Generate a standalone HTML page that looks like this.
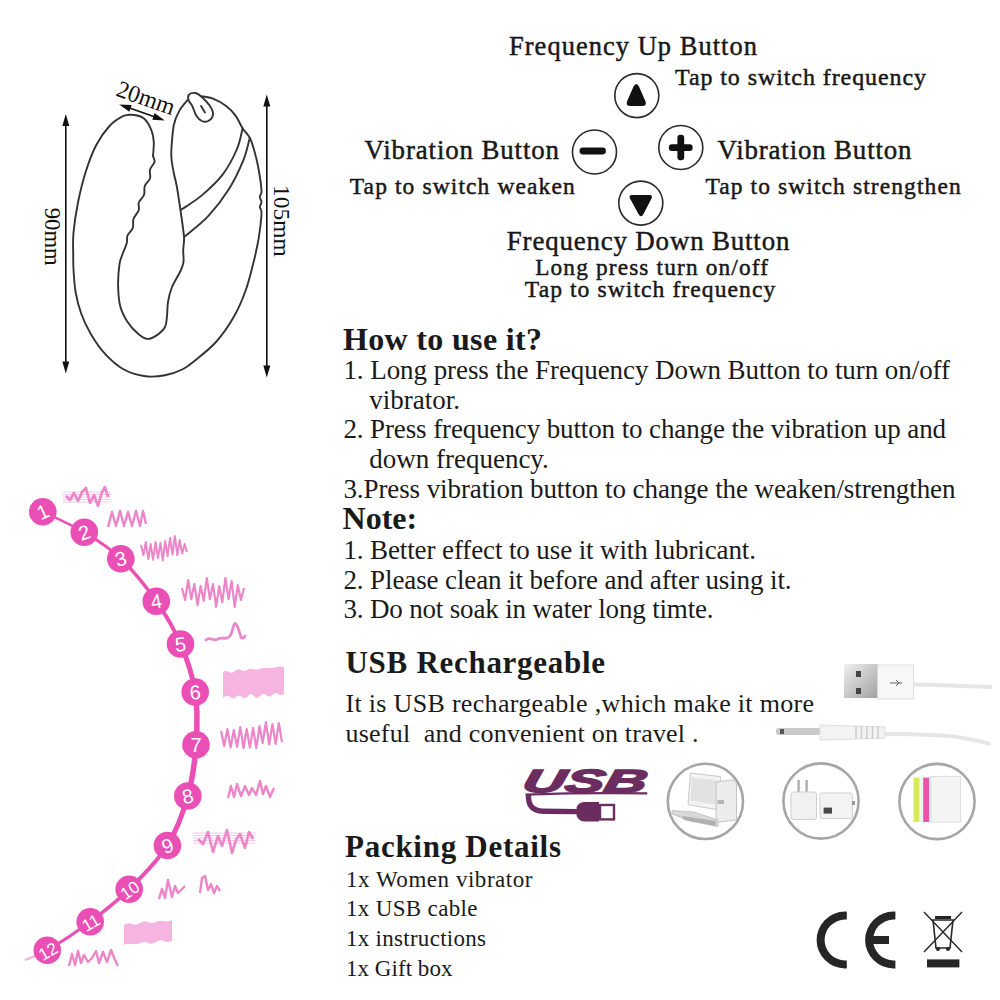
<!DOCTYPE html>
<html><head><meta charset="utf-8"><style>
html,body{margin:0;padding:0;background:#fff;}
body{width:1000px;height:1000px;position:relative;overflow:hidden;}
.t{position:absolute;white-space:pre;color:#1a1a1a;font-family:"Liberation Serif",serif;}
.b{font-weight:bold;}
svg{position:absolute;left:0;top:0;}
</style></head><body>
<svg width="1000" height="1000" viewBox="0 0 1000 1000">
<path d="M153.0,156.0 C153.1,153.8 154.0,146.8 153.8,142.5 C153.5,138.2 153.1,134.5 151.5,130.5 C149.9,126.5 147.2,121.1 144.0,118.5 C140.8,115.9 135.5,115.1 132.0,114.8 C128.5,114.4 126.8,114.4 123.0,116.2 C119.2,118.1 114.0,121.1 109.5,126.0 C105.0,130.9 100.0,137.8 96.0,145.5 C92.0,153.2 88.5,163.0 85.5,172.5 C82.5,182.0 80.0,192.5 78.0,202.5 C76.0,212.5 74.3,223.8 73.5,232.5 C72.7,241.2 73.2,248.6 73.2,255.0 C73.2,261.4 73.2,264.8 73.6,271.0 C74.0,277.2 74.4,285.0 75.6,292.0 C76.8,299.0 78.5,306.0 81.0,313.0 C83.5,320.0 86.8,327.2 90.8,334.0 C94.8,340.8 99.4,347.8 104.8,353.6 C110.2,359.4 116.5,365.3 123.0,369.0 C129.5,372.7 137.0,374.9 144.0,376.0 C151.0,377.1 158.5,376.5 165.0,375.3 C171.5,374.1 178.2,371.5 183.2,369.0 C188.2,366.5 189.5,365.0 195.0,360.5 C200.5,356.0 209.5,349.3 216.0,342.0 C222.5,334.7 229.0,325.2 234.0,316.5 C239.0,307.8 242.8,298.5 246.0,289.5 C249.2,280.5 251.5,270.4 253.5,262.5 C255.5,254.6 256.8,248.2 258.0,242.0 C259.2,235.8 259.9,230.0 260.5,225.0 C261.1,220.0 261.6,215.0 261.5,212.0 C261.4,209.0 259.8,208.7 259.8,207.0 C259.8,205.3 261.5,203.7 261.5,202.0 C261.5,200.3 259.8,198.7 259.8,197.0 C259.8,195.3 261.4,194.7 261.5,192.0 C261.6,189.3 261.1,185.5 260.5,181.0 C259.9,176.5 258.9,170.3 257.8,165.0 C256.7,159.7 255.1,153.5 253.8,149.0 C252.5,144.5 251.7,141.3 249.8,137.8 C247.9,134.3 245.0,131.9 242.6,128.2 C240.2,124.5 238.2,119.1 235.4,115.4 C232.6,111.7 229.5,108.6 225.8,105.8 C222.1,103.0 217.1,100.2 213.0,98.6 C208.9,97.0 203.0,96.6 201.0,96.2" fill="none" stroke="#333" stroke-width="1.9" stroke-linejoin="round" stroke-linecap="round"/>
<path d="M153.0,156.0 C153.2,157.0 155.0,159.8 154.5,162.0 C154.0,164.2 150.8,166.8 150.0,169.5 C149.2,172.2 150.9,175.8 150.0,178.5 C149.1,181.2 145.8,183.2 144.8,186.0 C143.8,188.8 145.0,192.2 144.0,195.0 C143.0,197.8 139.6,200.0 138.8,202.5 C137.9,205.0 139.6,207.2 138.8,210.0 C137.9,212.8 134.5,216.0 133.5,219.0 C132.5,222.0 133.8,225.2 132.8,228.0 C131.8,230.8 128.5,233.0 127.5,235.5 C126.5,238.0 127.6,239.8 126.8,243.0 C125.9,246.2 123.5,251.5 122.2,255.0 C121.0,258.5 120.2,259.0 119.5,264.0 C118.8,269.0 118.0,278.0 118.1,285.0 C118.2,292.0 118.7,299.9 120.2,306.0 C121.7,312.1 124.2,316.7 127.2,321.4 C130.2,326.1 135.0,331.1 138.4,334.0 C141.8,336.9 144.5,338.7 147.5,338.9 C150.5,339.1 153.7,337.4 156.6,335.4 C159.5,333.4 163.3,330.2 165.0,327.0 C166.7,323.8 166.5,320.2 167.0,316.0 C167.5,311.8 167.2,306.8 168.0,302.0 C168.8,297.2 169.9,292.2 172.0,287.0 C174.1,281.8 178.6,275.2 180.5,271.0 C182.4,266.8 183.1,265.5 183.5,262.0 C183.9,258.5 183.1,254.2 183.2,250.0 C183.3,245.8 184.4,243.0 184.0,237.0 C183.6,231.0 182.2,222.2 181.0,214.0 C179.8,205.8 178.2,194.3 177.0,187.5 C175.8,180.7 174.7,177.6 173.8,173.0 C172.9,168.4 172.0,164.0 171.6,160.0 C171.2,156.0 171.0,154.8 171.4,149.0 C171.8,143.2 172.5,131.4 173.8,125.0 C175.1,118.6 177.1,114.7 179.4,110.6 C181.7,106.5 186.1,101.9 187.4,100.2" fill="none" stroke="#333" stroke-width="1.9" stroke-linejoin="round" stroke-linecap="round"/>
<path d="M189.0,94.6 C190.2,93.4 193.4,92.7 195.4,93.0 C197.4,93.3 198.6,94.1 201.0,96.2 C203.4,98.3 207.8,102.7 209.8,105.8 C211.8,108.9 213.3,112.1 213.0,114.6 C212.7,117.1 210.1,119.9 208.2,121.0 C206.3,122.1 203.8,121.9 201.8,121.0 C199.8,120.1 197.8,117.9 196.2,115.4 C194.6,112.9 193.5,108.4 192.2,105.8 C190.9,103.2 189.0,101.9 188.5,100.0 C188.0,98.1 187.8,95.8 189.0,94.6 Z" fill="none" stroke="#333" stroke-width="1.9" stroke-linejoin="round" stroke-linecap="round"/>
<path d="M201,106 L205,112.5" fill="none" stroke="#333" stroke-width="1.9" stroke-linejoin="round" stroke-linecap="round" stroke-width="1.2"/>
<path d="M242.6,128.2 C241.7,131.7 240.3,141.3 237.0,149.0 C233.7,156.7 228.5,166.9 222.6,174.6 C216.7,182.3 208.7,189.5 201.8,195.4 C194.9,201.3 184.5,207.4 181.0,209.8" fill="none" stroke="#333" stroke-width="1.9" stroke-linejoin="round" stroke-linecap="round" stroke-width="1.5"/>
<path d="M249.8,137.8 C248.7,141.5 246.9,151.7 243.4,160.2 C239.9,168.7 234.9,179.7 229.0,189.0 C223.1,198.3 215.5,208.3 208.2,216.2 C200.9,224.1 188.9,232.9 185.0,236.2" fill="none" stroke="#333" stroke-width="1.9" stroke-linejoin="round" stroke-linecap="round" stroke-width="1.5"/>
<line x1="65.8" y1="122" x2="65.8" y2="365.5" stroke="#111" stroke-width="1.6"/><path d="M62.3,126 L65.8,114 L69.3,126 Z" fill="#111"/><path d="M62.3,361.5 L65.8,373.5 L69.3,361.5 Z" fill="#111"/>
<line x1="266.8" y1="102.6" x2="266.8" y2="369.5" stroke="#111" stroke-width="1.6"/><path d="M263.3,106.6 L266.8,94.6 L270.3,106.6 Z" fill="#111"/><path d="M263.3,365.5 L266.8,377.5 L270.3,365.5 Z" fill="#111"/>
<g transform="translate(119.2,104.4) rotate(19.33)"><line x1="8" y1="0" x2="40.3" y2="0" stroke="#111" stroke-width="1.6"/><path d="M0,0 L12,-3.5 L12,3.5 Z" fill="#111"/><path d="M48.3,0 L36.3,-3.5 L36.3,3.5 Z" fill="#111"/></g>
<text x="0" y="0" transform="translate(45,236.7) rotate(90)" text-anchor="middle" font-family="Liberation Serif" font-size="24" fill="#111" textLength="58" lengthAdjust="spacingAndGlyphs">90mm</text>
<text x="0" y="0" transform="translate(274,220.8) rotate(90)" text-anchor="middle" font-family="Liberation Serif" font-size="24" fill="#111" textLength="71.7" lengthAdjust="spacingAndGlyphs">105mm</text>
<text x="0" y="0" transform="translate(115,95.5) rotate(19.33)" font-family="Liberation Serif" font-size="24" fill="#111" textLength="60" lengthAdjust="spacingAndGlyphs">20mm</text>
<path d="M42.8,511.7 C49.7,515.1 71.3,524.5 84.3,532.3" fill="none" stroke="#ea4fb5" stroke-width="2.6"/>
<path d="M84.3,532.3 C97.3,540.1 108.8,547.2 120.8,558.7" fill="none" stroke="#ea4fb5" stroke-width="3"/>
<path d="M120.8,558.7 C132.8,570.2 146.4,587.0 156.3,601.2" fill="none" stroke="#ea4fb5" stroke-width="3.4"/>
<path d="M156.3,601.2 C166.2,615.4 174.0,628.9 180.5,644.0" fill="none" stroke="#ea4fb5" stroke-width="4"/>
<path d="M180.5,644.0 C187.0,659.1 192.6,675.2 195.2,692.0" fill="none" stroke="#ea4fb5" stroke-width="5"/>
<path d="M195.2,692.0 C197.8,708.8 197.2,727.5 196.0,744.8" fill="none" stroke="#ea4fb5" stroke-width="5.5"/>
<path d="M196.0,744.8 C194.8,762.1 192.6,779.2 187.8,796.0" fill="none" stroke="#ea4fb5" stroke-width="5.5"/>
<path d="M187.8,796.0 C183.0,812.8 177.2,830.0 167.4,845.5" fill="none" stroke="#ea4fb5" stroke-width="5"/>
<path d="M167.4,845.5 C157.6,861.0 142.1,876.5 129.2,889.2" fill="none" stroke="#ea4fb5" stroke-width="4.2"/>
<path d="M129.2,889.2 C116.3,901.9 103.8,911.5 90.2,921.7" fill="none" stroke="#ea4fb5" stroke-width="3.6"/>
<path d="M90.2,921.7 C76.6,931.9 58.2,943.9 47.3,950.3" fill="none" stroke="#ea4fb5" stroke-width="3"/>
<path d="M47.3,950.3 C36.4,956.7 28.7,958.4 25.0,960.0" fill="none" stroke="#f5b5dd" stroke-width="2.2"/>
<circle cx="42.8" cy="511.7" r="13.8" fill="#ea4fb5"/>
<text x="0" y="0" transform="translate(42.8,511.7) rotate(-25)" text-anchor="middle" dy="7.2" font-family="Liberation Sans" font-size="20" fill="#fff">1</text>
<circle cx="84.3" cy="532.3" r="13.8" fill="#ea4fb5"/>
<text x="0" y="0" transform="translate(84.3,532.3) rotate(-20)" text-anchor="middle" dy="7.2" font-family="Liberation Sans" font-size="20" fill="#fff">2</text>
<circle cx="120.8" cy="558.7" r="13.8" fill="#ea4fb5"/>
<text x="0" y="0" transform="translate(120.8,558.7) rotate(-15)" text-anchor="middle" dy="7.2" font-family="Liberation Sans" font-size="20" fill="#fff">3</text>
<circle cx="156.3" cy="601.2" r="13.8" fill="#ea4fb5"/>
<text x="0" y="0" transform="translate(156.3,601.2) rotate(-10)" text-anchor="middle" dy="7.2" font-family="Liberation Sans" font-size="20" fill="#fff">4</text>
<circle cx="180.5" cy="644" r="13.8" fill="#ea4fb5"/>
<text x="0" y="0" transform="translate(180.5,644) rotate(-5)" text-anchor="middle" dy="7.2" font-family="Liberation Sans" font-size="20" fill="#fff">5</text>
<circle cx="195.2" cy="692" r="13.8" fill="#ea4fb5"/>
<text x="0" y="0" transform="translate(195.2,692) rotate(-5)" text-anchor="middle" dy="7.2" font-family="Liberation Sans" font-size="20" fill="#fff">6</text>
<circle cx="196" cy="744.8" r="13.8" fill="#ea4fb5"/>
<text x="0" y="0" transform="translate(196,744.8) rotate(0)" text-anchor="middle" dy="7.2" font-family="Liberation Sans" font-size="20" fill="#fff">7</text>
<circle cx="187.8" cy="796" r="13.8" fill="#ea4fb5"/>
<text x="0" y="0" transform="translate(187.8,796) rotate(-12)" text-anchor="middle" dy="7.2" font-family="Liberation Sans" font-size="20" fill="#fff">8</text>
<circle cx="167.4" cy="845.5" r="13.8" fill="#ea4fb5"/>
<text x="0" y="0" transform="translate(167.4,845.5) rotate(-20)" text-anchor="middle" dy="7.2" font-family="Liberation Sans" font-size="20" fill="#fff">9</text>
<circle cx="129.2" cy="889.2" r="13.8" fill="#ea4fb5"/>
<text x="0" y="0" transform="translate(129.2,889.2) rotate(-35)" text-anchor="middle" dy="7.2" font-family="Liberation Sans" font-size="17" fill="#fff">10</text>
<circle cx="90.2" cy="921.7" r="13.8" fill="#ea4fb5"/>
<text x="0" y="0" transform="translate(90.2,921.7) rotate(-30)" text-anchor="middle" dy="7.2" font-family="Liberation Sans" font-size="17" fill="#fff">11</text>
<circle cx="47.3" cy="950.3" r="13.8" fill="#ea4fb5"/>
<text x="0" y="0" transform="translate(47.3,950.3) rotate(-30)" text-anchor="middle" dy="7.2" font-family="Liberation Sans" font-size="17" fill="#fff">12</text>
<line x1="63" y1="492" x2="111" y2="492" stroke="#f4bfe4" stroke-width="0.9"/>
<line x1="63" y1="494.5" x2="111" y2="494.5" stroke="#f4bfe4" stroke-width="0.9"/>
<line x1="63" y1="497" x2="111" y2="497" stroke="#f4bfe4" stroke-width="0.9"/>
<line x1="63" y1="499.5" x2="111" y2="499.5" stroke="#f4bfe4" stroke-width="0.9"/>
<line x1="63" y1="502" x2="111" y2="502" stroke="#f4bfe4" stroke-width="0.9"/>
<polyline points="66,496 70,500 74,493 78,501 82,492 86,488 90,503 94,495 98,506 102,492 105,487 108,497" fill="none" stroke="#ec86c8" stroke-width="2.6" stroke-linejoin="round"/>
<polyline points="108,527 112,512 116,526 120,511 124,526 128,512 132,526 136,511 140,526 143,511 146,524" fill="none" stroke="#ec86c8" stroke-width="2.4" stroke-linejoin="round"/>
<polyline points="141.0,545.0 143.4,555.2 145.8,542.0 148.3,559.0 150.7,544.0 153.1,559.8 155.5,542.0 157.9,558.2 160.4,543.0 162.8,560.5 165.2,541.0 167.6,556.0 170.1,538.0 172.5,554.5 174.9,536.0 177.3,555.2 179.7,540.0 182.2,553.8 184.6,544.0 187.0,552.2" fill="none" stroke="#ec86c8" stroke-width="2.0" stroke-linejoin="round" opacity="1.0"/>
<polyline points="182.0,588.0 185.1,600.0 188.2,580.0 191.3,599.2 194.4,584.0 197.5,605.2 200.6,586.0 203.7,600.8 206.8,578.0 209.9,599.2 213.0,584.0 216.1,606.8 219.2,586.0 222.3,602.2 225.4,578.0 228.5,599.2 231.6,581.0 234.7,606.8 237.8,585.0 240.9,600.0 244.0,588.0" fill="none" stroke="#ec86c8" stroke-width="2.2" stroke-linejoin="round" opacity="1.0"/>
<path d="M206,640 C210,636 214,642 218,639 C222,636 226,641 230,636 C233,632 233,624 235,623.5 C238,624 239,632 241,637 C242,639 244,638 245,636" fill="none" stroke="#ec86c8" stroke-width="2.8" stroke-linecap="round"/>
<path d="M223,672 Q226,670 229,672 T235,671 T241,670 T247,670 T253,669 T259,669 T265,668 T271,668 T277,667 T284,667 L284,694 Q281,696 278,694 T272,695 T266,695 T260,696 T254,696 T248,696 T242,697 T236,697 T230,697 T223,698 Z" fill="#f5b5e0"/>
<polyline points="221.0,731.0 224.2,746.0 227.4,729.0 230.6,747.5 233.8,730.0 237.1,746.8 240.3,727.0 243.5,748.2 246.7,729.0 249.9,747.5 253.1,728.0 256.3,748.2 259.5,726.0 262.7,743.0 265.9,722.0 269.2,744.5 272.4,724.0 275.6,743.8 278.8,723.0 282.0,742.2" fill="none" stroke="#ec86c8" stroke-width="2.2" stroke-linejoin="round" opacity="1.0"/>
<polyline points="228,798 231,786 234,797 237,784 241,796 245,786 249,795 252,788 256,795 260,781 263,794 266,786 270,797 274,788" fill="none" stroke="#ec86c8" stroke-width="2.4" stroke-linejoin="round"/>
<line x1="193" y1="833" x2="255" y2="833" stroke="#f4bfe4" stroke-width="0.9"/>
<line x1="193" y1="835.5" x2="255" y2="835.5" stroke="#f4bfe4" stroke-width="0.9"/>
<line x1="193" y1="838" x2="255" y2="838" stroke="#f4bfe4" stroke-width="0.9"/>
<line x1="193" y1="840.5" x2="255" y2="840.5" stroke="#f4bfe4" stroke-width="0.9"/>
<line x1="193" y1="843" x2="255" y2="843" stroke="#f4bfe4" stroke-width="0.9"/>
<polyline points="198,839 203,844 208,832 213,852 218,836 222,846 227,830 232,853 236,840 240,834 245,848 249,832 253,839" fill="none" stroke="#ec86c8" stroke-width="2.6" stroke-linejoin="round"/>
<polyline points="159,899 162,889 165,898 168,880 172,897 175,886 178,893 181,890 185,886" fill="none" stroke="#ec86c8" stroke-width="2.4" stroke-linejoin="round"/>
<polyline points="200,893 202,878 205,876 208,890 211,884 214,893 217,886 220,891" fill="none" stroke="#ec86c8" stroke-width="2.4" stroke-linejoin="round"/>
<path d="M124,925 Q128,922 132,924 T140,923 T148,922 T156,922 T164,921 T172,920 L172,941 Q168,943 164,941 T156,942 T148,943 T140,943 T132,944 T124,945 Z" fill="#f5b5e0"/>
<polyline points="69,966 72,954 75,965 78,951 81,963 84,955 88,962 92,958 96,951 99,963 103,952 107,962 111,950 115,960 118,966" fill="none" stroke="#ec86c8" stroke-width="2.4" stroke-linejoin="round"/>
<circle cx="636.8" cy="95.6" r="22" fill="#fff" stroke="#2a2a2a" stroke-width="1.6"/>
<path d="M633.5,86.5 Q636.3,81.5 639,86.5 L645.5,101.5 Q647,106 642,106 L630.5,106 Q625.5,106 627,101.5 Z" fill="#111"/>
<circle cx="594.5" cy="152" r="22" fill="#fff" stroke="#2a2a2a" stroke-width="1.6"/>
<rect x="579.5" y="147.6" width="26.4" height="6.8" rx="3.4" fill="#111"/>
<circle cx="680.8" cy="147.5" r="22" fill="#fff" stroke="#2a2a2a" stroke-width="1.6"/>
<rect x="668.8" y="144.2" width="23.8" height="6.8" rx="3" fill="#111"/><rect x="677.4" y="134.7" width="6.8" height="25.5" rx="3" fill="#111"/>
<circle cx="640.8" cy="203.1" r="22" fill="#fff" stroke="#2a2a2a" stroke-width="1.6"/>
<path d="M632,195 L649.5,195 Q653,195 651.5,198.5 L643.5,214 Q641,218.5 638.5,214 L630,198.5 Q628.5,195 632,195 Z" fill="#111"/>
<g transform="translate(521,792.2) skewX(-12)"><text x="0" y="0" font-family="Liberation Sans" font-weight="bold" font-style="italic" font-size="32" fill="#6b2d5f" stroke="#6b2d5f" stroke-width="1.6" textLength="124" lengthAdjust="spacingAndGlyphs">USB</text></g>
<path d="M525.5,794.6 Q586,792.5 647.3,793.4" fill="none" stroke="#6b2d5f" stroke-width="2.2"/>
<path d="M528.5,795 C528,806 533,811 543,811.2 L578,811.6" fill="none" stroke="#6b2d5f" stroke-width="5.4"/>
<path d="M576.6,807 Q579,802 585,802 L599,802 L599,821.6 L585,821.6 Q579,821.6 576.6,816 Z" fill="#6b2d5f"/>
<rect x="600" y="805" width="14" height="14.4" fill="none" stroke="#6b2d5f" stroke-width="2.4"/>
<circle cx="705.4" cy="801.4" r="37.6" fill="#fff" stroke="#a6a6a6" stroke-width="2.6"/>
<circle cx="821" cy="801" r="37.6" fill="#fff" stroke="#a6a6a6" stroke-width="2.6"/>
<circle cx="937" cy="801.5" r="37.6" fill="#fff" stroke="#a6a6a6" stroke-width="2.6"/>
<path d="M690.5,773 L720.5,776.6 L718.6,810 L688,804.6 Z" fill="#f3f3f3" stroke="#c9c9c9" stroke-width="1"/>
<path d="M691.6,777.5 L717.6,780.5 L716.5,805 L690.6,800.5 Z" fill="#e2e2e2"/>
<path d="M716,782 L732,780 Q737,781 736.5,786 L736.5,820 L716,822.5 Z" fill="#ececec" stroke="#c4c4c4" stroke-width="1"/>
<path d="M717.5,800 L724,800 L724,804 L717.5,804 Z" fill="#b5b5b5"/>
<path d="M672,810.5 L694,812 L718,820 L718,826.5 L690,821 L672,814 Z" fill="#d9d9d9" stroke="#bdbdbd" stroke-width="0.8"/>
<path d="M682,816 L716,821 L716,826 L684,820 Z" fill="#b0b0b0"/>
<rect x="797.5" y="780" width="2.2" height="14" fill="#a8a8a8"/><rect x="805.5" y="780" width="2.2" height="14" fill="#a8a8a8"/>
<rect x="791" y="792" width="25.5" height="27.5" rx="2.5" fill="#f1f1f1" stroke="#cfcfcf" stroke-width="1"/>
<path d="M820,795 Q820,793 822,793 L850,793 Q852.4,793 852.4,795 L852.4,816 Q852.4,818.4 850,818.4 L822,818.4 Q820,818.4 820,816 Z" fill="#f3f3f3" stroke="#cfcfcf" stroke-width="1"/>
<rect x="852" y="801" width="3" height="4" fill="#999"/>
<rect x="823.6" y="807.6" width="8.4" height="6" fill="#4a4a4a"/>
<rect x="913.6" y="777.6" width="6" height="44.4" fill="#d8ea5c"/>
<rect x="919.6" y="777" width="3.6" height="45" fill="#f0f0f0"/>
<rect x="923.2" y="777.6" width="6" height="44.4" fill="#ec52a8"/>
<rect x="929.2" y="776.4" width="2" height="45.6" fill="#e6e6e6"/>
<rect x="931" y="776.4" width="29.4" height="45.6" fill="#f4f4f4" stroke="#dcdcdc" stroke-width="1"/>
<defs><linearGradient id="mg" x1="0" y1="0" x2="1" y2="1"><stop offset="0" stop-color="#f0f0f0"/><stop offset="1" stop-color="#a0a0a0"/></linearGradient></defs>
<rect x="844" y="664" width="34" height="34" fill="url(#mg)"/>
<rect x="856" y="671" width="5" height="6" fill="#444"/><rect x="856" y="688" width="5" height="6" fill="#444"/>
<rect x="877.6" y="665" width="36" height="34" fill="#f7f7f7" stroke="#ddd" stroke-width="1"/>
<path d="M890,683 L902,683 M896,680 L899,683 L896,686" stroke="#666" stroke-width="1" fill="none"/>
<path d="M913,684.4 C940,685 965,686 992,687" stroke="#e6e6e6" stroke-width="4" fill="none"/>
<rect x="776" y="728" width="45" height="7" rx="3" fill="#c9c9c9"/>
<rect x="780" y="729" width="4" height="5" fill="#555"/>
<path d="M820,725 L885,727 L885,738 L820,740 Z" fill="#f3f3f3" stroke="#ddd" stroke-width="1"/>
<line x1="856.0" y1="726" x2="856.0" y2="739" stroke="#ccc" stroke-width="1.5"/>
<line x1="861.5" y1="726" x2="861.5" y2="739" stroke="#ccc" stroke-width="1.5"/>
<line x1="867.0" y1="726" x2="867.0" y2="739" stroke="#ccc" stroke-width="1.5"/>
<line x1="872.5" y1="726" x2="872.5" y2="739" stroke="#ccc" stroke-width="1.5"/>
<line x1="878.0" y1="726" x2="878.0" y2="739" stroke="#ccc" stroke-width="1.5"/>
<path d="M885,734 C930,734 960,735 990,744" stroke="#e6e6e6" stroke-width="4" fill="none"/>
<path d="M846.8,911.6 L845,911.6 A28.4,28.4 0 0 0 845,968.4 L846.8,968.4 L846.8,960.4 L845,960.4 A20.4,20.4 0 0 1 845,919.6 L846.8,919.6 Z" fill="#262626"/>
<path d="M895.4,911.6 L893.5,911.6 A28.4,28.4 0 0 0 893.5,968.4 L895.4,968.4 L895.4,960.4 L893.5,960.4 A20.4,20.4 0 0 1 893.5,919.6 L895.4,919.6 Z" fill="#262626"/>
<rect x="872" y="936" width="17" height="8" fill="#262626"/>
<path d="M924,912 L962,952 M962,912 L924,952" stroke="#262626" stroke-width="1.4"/>
<path d="M933,920 L953,920 L950,948 L936,948 Z" fill="none" stroke="#262626" stroke-width="1.6"/>
<rect x="935" y="916" width="16" height="3" fill="#262626"/>
<circle cx="938" cy="949" r="2" fill="#262626"/><circle cx="948" cy="949" r="2" fill="#262626"/>
<rect x="927" y="959.4" width="32.4" height="8" fill="#262626"/>
</svg>
<div class="t r" style="left:509.00px;top:33.49px;font-size:26.4px;line-height:26.4px;letter-spacing:1.067px;-webkit-text-stroke:0.45px #111;">Frequency Up Button</div>
<div class="t r" style="left:675.00px;top:64.50px;font-size:24px;line-height:24px;letter-spacing:0.914px;-webkit-text-stroke:0.45px #111;">Tap to switch frequency</div>
<div class="t r" style="left:364.60px;top:137.07px;font-size:26.9px;line-height:26.9px;letter-spacing:0.867px;-webkit-text-stroke:0.45px #111;">Vibration Button</div>
<div class="t r" style="left:717.60px;top:137.27px;font-size:26.9px;line-height:26.9px;letter-spacing:0.833px;-webkit-text-stroke:0.45px #111;">Vibration Button</div>
<div class="t r" style="left:349.80px;top:174.92px;font-size:23.5px;line-height:23.5px;letter-spacing:1.105px;-webkit-text-stroke:0.45px #111;">Tap to switch weaken</div>
<div class="t r" style="left:705.40px;top:175.12px;font-size:23.5px;line-height:23.5px;letter-spacing:1.100px;-webkit-text-stroke:0.45px #111;">Tap to switch strengthen</div>
<div class="t r" style="left:506.80px;top:228.07px;font-size:26.9px;line-height:26.9px;letter-spacing:0.835px;-webkit-text-stroke:0.45px #111;">Frequency Down Button</div>
<div class="t r" style="left:535.20px;top:255.89px;font-size:23.3px;line-height:23.3px;letter-spacing:1.152px;-webkit-text-stroke:0.45px #111;">Long press turn on/off</div>
<div class="t r" style="left:524.80px;top:278.04px;font-size:23.6px;line-height:23.6px;letter-spacing:1.068px;-webkit-text-stroke:0.45px #111;">Tap to switch frequency</div>
<div class="t b" style="left:343.00px;top:323.00px;font-size:32px;line-height:32px;letter-spacing:0.331px;">How to use it?</div>
<div class="t r" style="left:343.40px;top:356.99px;font-size:27px;line-height:27px;letter-spacing:-0.062px;">1. Long press the Frequency Down Button to turn on/off</div>
<div class="t r" style="left:369.20px;top:386.99px;font-size:27px;line-height:27px;letter-spacing:0.000px;">vibrator.</div>
<div class="t r" style="left:343.40px;top:416.39px;font-size:27px;line-height:27px;letter-spacing:-0.113px;">2. Press frequency button to change the vibration up and</div>
<div class="t r" style="left:369.20px;top:445.79px;font-size:27px;line-height:27px;letter-spacing:0.000px;">down frequency.</div>
<div class="t r" style="left:343.40px;top:475.79px;font-size:27px;line-height:27px;letter-spacing:-0.091px;">3.Press vibration button to change the weaken/strengthen</div>
<div class="t b" style="left:342.60px;top:502.40px;font-size:32px;line-height:32px;letter-spacing:0.000px;">Note:</div>
<div class="t r" style="left:343.40px;top:536.79px;font-size:27px;line-height:27px;letter-spacing:-0.110px;">1. Better effect to use it with lubricant.</div>
<div class="t r" style="left:343.40px;top:566.79px;font-size:27px;line-height:27px;letter-spacing:-0.105px;">2. Please clean it before and after using it.</div>
<div class="t r" style="left:343.40px;top:596.49px;font-size:27px;line-height:27px;letter-spacing:-0.162px;">3. Do not soak in water long timte.</div>
<div class="t b" style="left:345.50px;top:647.24px;font-size:31px;line-height:31px;letter-spacing:0.713px;">USB Rechargeable</div>
<div class="t r" style="left:345.50px;top:691.02px;font-size:26px;line-height:26px;letter-spacing:0.310px;">It is USB rechargeable ,which make it more</div>
<div class="t r" style="left:345.50px;top:721.02px;font-size:26px;line-height:26px;letter-spacing:0.218px;">useful  and convenient on travel .</div>
<div class="t b" style="left:345.00px;top:830.59px;font-size:31px;line-height:31px;letter-spacing:0.729px;">Packing Details</div>
<div class="t r" style="left:346.00px;top:867.54px;font-size:23px;line-height:23px;letter-spacing:0.537px;">1x Women vibrator</div>
<div class="t r" style="left:346.00px;top:897.29px;font-size:23px;line-height:23px;letter-spacing:0.336px;">1x USB cable</div>
<div class="t r" style="left:346.00px;top:927.04px;font-size:23px;line-height:23px;letter-spacing:0.279px;">1x instructions</div>
<div class="t r" style="left:346.00px;top:956.54px;font-size:23px;line-height:23px;letter-spacing:0.040px;">1x Gift box</div>
</body></html>
